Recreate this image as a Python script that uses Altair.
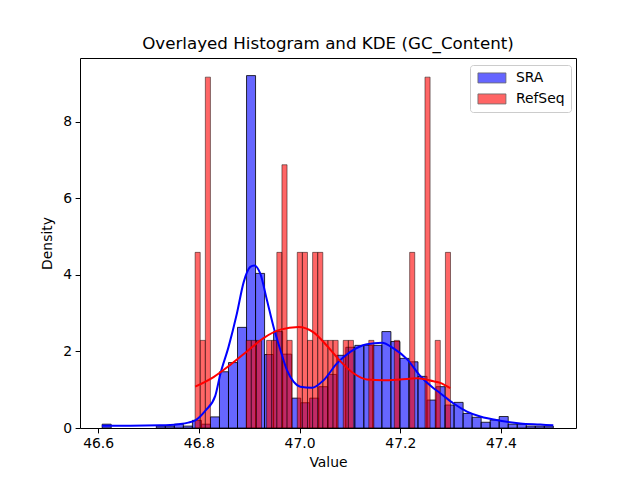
import altair as alt
import numpy as np
import pandas as pd

FONT = "DejaVu Sans"

# SRA: 50 equal-width bins spanning the sample range (density scale)
sra_lo, sra_hi = 46.608, 47.504
sra_density = [0.10, 0, 0, 0, 0, 0, 0.05, 0.05, 0.10, 0.05,
               0.20, 0.10, 0.29, 1.47, 1.71, 2.63, 9.21, 4.04, 1.92, 2.52,
               1.93, 0.78, 0.66, 0.78, 1.08, 1.40, 1.90, 2.11, 2.16, 2.16,
               2.16, 2.52, 2.26, 1.82, 1.73, 1.35, 0.73, 1.08, 0.60, 0.67,
               0.38, 0.28, 0.15, 0.21, 0.30, 0.10, 0.10, 0.05, 0.05, 0.05]

# RefSeq: 50 equal-width bins spanning the sample range (density scale)
ref_lo, ref_hi = 46.7926, 47.2998
ref_density = [4.59, 2.29, 9.17, 0, 0, 0, 0, 0, 0, 0,
               2.29, 2.29, 2.29, 0, 2.29, 2.29, 4.59, 6.88, 2.29, 0,
               4.59, 4.59, 2.29, 4.59, 4.59, 2.29, 2.29, 2.29, 0, 2.29,
               2.29, 0, 0, 0, 2.29, 0, 0, 0, 0, 2.29,
               0, 0, 4.59, 0, 0, 9.17, 0, 2.29, 0, 4.59]

# Kernel density estimates
sra_kde_x = [46.6075, 46.6638, 46.7233, 46.7591, 46.7790, 46.7928, 46.8127,
             46.8326, 46.8425, 46.8590, 46.8757, 46.8888, 46.9021, 46.9100,
             46.9219, 46.9353, 46.9484, 46.9619, 46.9750, 46.9881, 47.0014,
             47.0246, 47.0477, 47.0743, 47.1007, 47.1339, 47.1636, 47.1867,
             47.2133, 47.2397, 47.2661, 47.2794, 47.3059, 47.3325, 47.3589,
             47.3986, 47.4383, 47.4781, 47.5039]
sra_kde_y = [0.06, 0.06, 0.07, 0.10, 0.14, 0.20, 0.45, 0.84, 1.40, 2.12,
             3.00, 3.80, 4.21, 4.25, 4.04, 3.34, 2.64, 2.04, 1.51, 1.21,
             1.08, 1.05, 1.25, 1.69, 1.99, 2.19, 2.23, 2.08, 1.80, 1.36,
             1.04, 0.91, 0.64, 0.43, 0.30, 0.19, 0.12, 0.09, 0.07]

ref_kde_x = [46.7928, 46.8292, 46.8624, 46.8955, 46.9285, 46.9617, 46.9980,
             47.0278, 47.0544, 47.0808, 47.1072, 47.1339, 47.1668, 47.2000,
             47.2332, 47.2661, 47.2794, 47.2993]
ref_kde_y = [1.08, 1.33, 1.65, 2.00, 2.35, 2.57, 2.64, 2.50, 2.15, 1.75,
             1.43, 1.27, 1.25, 1.27, 1.30, 1.22, 1.18, 1.04]

x_ticks = [46.6, 46.8, 47.0, 47.2, 47.4]
y_ticks = [0, 2, 4, 6, 8]


def hist_frame(lo, hi, dens, name):
    edges = np.linspace(lo, hi, len(dens) + 1)
    df = pd.DataFrame({"x0": edges[:-1], "x1": edges[1:],
                       "density": dens, "base": 0.0, "series": name})
    return df[df["density"] > 0]


sra_df = hist_frame(sra_lo, sra_hi, sra_density, "SRA")
ref_df = hist_frame(ref_lo, ref_hi, ref_density, "RefSeq")
sra_kde = pd.DataFrame({"x": sra_kde_x, "y": sra_kde_y})
ref_kde = pd.DataFrame({"x": ref_kde_x, "y": ref_kde_y})

x_scale = alt.Scale(domain=[46.5640, 47.5490], nice=False, zero=False)
y_scale = alt.Scale(domain=[0, 9.67], nice=False)

x_axis = alt.Axis(title="Value", values=x_ticks, format=".1f", grid=False,
                  titlePadding=5)
y_axis = alt.Axis(title="Density", values=y_ticks, format="d", grid=False,
                  titlePadding=8)

# Wide, flat swatch: the path spans 2.8x the nominal symbol width
legend = alt.Legend(
    title=None, orient="none", legendX=390, legendY=7,
    symbolType="M-2.8,-1H2.8V1H-2.8Z", symbolSize=100, symbolOffset=9,
    symbolStrokeColor="black", symbolStrokeWidth=0.8, symbolOpacity=0.6,
    labelFont=FONT, labelFontSize=13.9, labelColor="black", labelOffset=17,
    padding=6, rowPadding=6, fillColor="white", strokeColor="#cccccc",
    cornerRadius=3,
)
color = alt.Color("series:N",
                  scale=alt.Scale(domain=["SRA", "RefSeq"], range=["blue", "red"]),
                  legend=legend)

sra_bars = alt.Chart(sra_df).mark_rect(
    fillOpacity=0.6, stroke="black", strokeWidth=0.8
).encode(
    x=alt.X("x0:Q", scale=x_scale, axis=x_axis),
    x2="x1:Q",
    y=alt.Y("density:Q", scale=y_scale, axis=y_axis),
    y2="base:Q",
    color=color,
)

ref_bars = alt.Chart(ref_df).mark_rect(
    fillOpacity=0.6, stroke="black", strokeOpacity=0.6, strokeWidth=0.8
).encode(
    x=alt.X("x0:Q", scale=x_scale, axis=x_axis),
    x2="x1:Q",
    y=alt.Y("density:Q", scale=y_scale, axis=y_axis),
    y2="base:Q",
    color=color,
)

sra_line = alt.Chart(sra_kde).mark_line(
    color="blue", strokeWidth=2, interpolate="monotone"
).encode(x=alt.X("x:Q", scale=x_scale), y=alt.Y("y:Q", scale=y_scale))

ref_line = alt.Chart(ref_kde).mark_line(
    color="red", strokeWidth=2, interpolate="monotone"
).encode(x=alt.X("x:Q", scale=x_scale), y=alt.Y("y:Q", scale=y_scale))

chart = alt.layer(sra_bars, ref_bars, sra_line, ref_line).properties(
    width=496, height=370,
    autosize=alt.AutoSizeParams(type="none"),
    padding={"left": 80, "top": 58, "right": 64, "bottom": 52},
    title=alt.TitleParams("Overlayed Histogram and KDE (GC_Content)",
                          font=FONT, fontSize=16.7, fontWeight="normal",
                          color="black", anchor="middle", offset=5),
).configure(
    background="white",
).configure_view(
    stroke="black", strokeWidth=1,
).configure_axis(
    domain=False, tickColor="black", tickSize=4.9, tickWidth=1,
    labelFont=FONT, labelFontSize=13.9, labelColor="black", labelPadding=3.5,
    titleFont=FONT, titleFontSize=13.9, titleFontWeight="normal",
    titleColor="black",
)

chart.save("out.html", embed_options={"renderer": "svg", "actions": False})
